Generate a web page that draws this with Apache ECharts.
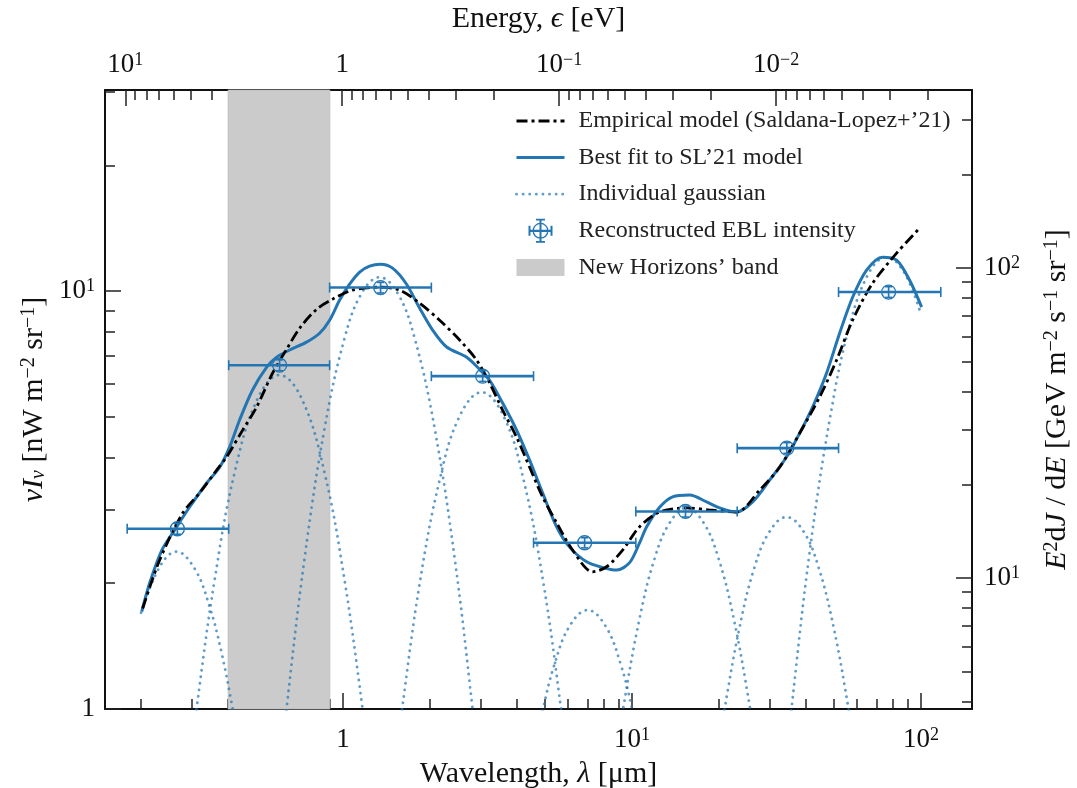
<!DOCTYPE html>
<html>
<head>
<meta charset="utf-8">
<script src="https://cdn.jsdelivr.net/npm/echarts@6.0.0/dist/echarts.min.js"></script>
<style>
html, body { margin: 0; padding: 0; background: #fff; }
#chart { width: 1077px; height: 788px; }
</style>
</head>
<body>
<div id="chart"></div>
<script>
// reconstructed EBL intensity: bin centre [um], nuI_nu [nW m^-2 sr^-1]
const pointLambda = [0.267, 0.603, 1.348, 3.04, 6.85, 15.3, 34.3, 77.2]
const pointValue = [2.70, 6.65, 10.2, 6.26, 2.50, 2.97, 4.21, 9.95]
const binLow = [0.179, 0.402, 0.898, 2.02, 4.56, 10.3, 23.1, 51.8]
const binHigh = [0.402, 0.898, 2.02, 4.56, 10.3, 23.1, 51.8, 117]
const valueLow = [2.62, 6.45, 9.9, 6.08, 2.43, 2.88, 4.09, 9.66]
const valueHigh = [2.78, 6.85, 10.5, 6.45, 2.57, 3.06, 4.34, 10.25]

// New Horizons band [um]
const newHorizons = [0.4, 0.9]

// empirical model (Saldana-Lopez+'21), [lambda, nuI_nu]
const empirical = [
  [0.2025, 1.74], [0.2317, 2.27], [0.2783, 2.94], [0.3189, 3.29], [0.365, 3.73],
  [0.3952, 4.01], [0.4491, 4.65], [0.502, 5.28], [0.5704, 6.37], [0.6374, 7.26],
  [0.707, 8.15], [0.8096, 9.05], [0.9198, 9.57], [1.079, 10.06], [1.338, 10.22],
  [1.569, 10.06], [1.839, 9.36], [2.158, 8.52], [2.53, 7.64], [2.897, 6.84],
  [3.213, 6.03], [3.564, 5.19], [3.985, 4.47], [4.419, 3.79], [4.9, 3.22],
  [5.48, 2.79], [6.225, 2.40], [7.298, 2.13], [8.164, 2.19], [9.272, 2.40],
  [10.62, 2.73], [12.45, 2.96], [15.44, 3.03], [18.99, 2.99], [22.99, 2.96],
  [27.62, 3.34], [32.39, 3.79], [37.98, 4.57], [44.54, 5.58], [51.0, 6.84],
  [57.94, 8.52], [67.97, 10.45], [82.27, 12.33], [98.8, 14.15]
]

// best fit to SL'21 model
const bestFit = [
  [0.201, 1.71], [0.214, 2.00], [0.236, 2.40], [0.261, 2.68], [0.294, 3.04],
  [0.337, 3.47], [0.374, 3.79], [0.405, 4.24], [0.438, 4.91], [0.486, 5.80],
  [0.544, 6.58], [0.589, 6.95], [0.653, 7.23], [0.747, 7.55], [0.829, 7.93],
  [0.898, 8.52], [0.973, 9.52], [1.053, 10.39], [1.141, 11.11], [1.235, 11.48],
  [1.348, 11.60], [1.483, 11.35], [1.658, 10.39], [1.839, 9.11], [2.040, 8.07],
  [2.281, 7.35], [2.676, 6.95], [2.967, 6.50], [3.213, 6.12], [3.564, 5.40],
  [3.985, 4.65], [4.419, 3.94], [4.900, 3.29], [5.480, 2.73], [6.077, 2.44],
  [6.960, 2.25], [7.905, 2.18], [8.840, 2.15], [9.803, 2.24], [10.62, 2.50],
  [11.23, 2.73], [12.45, 3.04], [13.81, 3.22], [15.81, 3.25], [18.11, 3.13],
  [20.08, 3.03], [22.99, 2.96], [26.12, 3.13], [29.91, 3.53], [34.23, 4.01],
  [37.98, 4.57], [42.13, 5.28], [47.10, 6.37], [52.24, 7.93], [57.94, 9.67],
  [64.77, 11.23], [73.57, 12.06], [82.27, 11.86], [91.26, 10.62], [100.4, 9.16]
]

// individual gaussians
const gauss1 = [[0.20, 1.70], [0.232, 2.19], [0.265, 2.38], [0.306, 2.17], [0.345, 1.76], [0.38, 1.36], [0.415, 1.0], [0.44, 0.80]]
const gauss2 = [[0.294, 0.72], [0.311, 1.0], [0.359, 2.03], [0.421, 3.67], [0.506, 5.53], [0.603, 6.30], [0.719, 5.53], [0.863, 3.67], [1.012, 2.03], [1.168, 1.0], [1.235, 0.72]]
const gauss3 = [[0.603, 0.69], [0.637, 1.0], [0.736, 2.30], [0.863, 4.70], [1.012, 7.72], [1.159, 9.89], [1.338, 10.8], [1.544, 9.89], [1.768, 7.72], [2.073, 4.70], [2.431, 2.30], [2.806, 1.0], [2.967, 0.69]]
const gauss4 = [[1.507, 0.72], [1.594, 0.98], [1.839, 1.99], [2.158, 3.53], [2.53, 5.02], [3.015, 5.73], [3.593, 5.02], [4.213, 3.53], [4.94, 1.99], [5.70, 0.98], [6.08, 0.68]]
const gauss5 = [[4.60, 0.80], [4.90, 0.99], [5.39, 1.28], [6.08, 1.58], [7.02, 1.725], [8.09, 1.58], [9.13, 1.28], [10.04, 0.99], [10.7, 0.80]]
const gauss6 = [[8.70, 0.73], [9.35, 1.02], [10.62, 1.65], [11.96, 2.29], [13.49, 2.79], [15.44, 3.03], [17.68, 2.79], [19.92, 2.29], [22.45, 1.65], [25.5, 1.02], [27.4, 0.73]]
const gauss7 = [[19.45, 0.72], [20.9, 1.0], [23.55, 1.57], [26.5, 2.18], [29.9, 2.66], [34.2, 2.88], [39.2, 2.66], [44.2, 2.18], [49.8, 1.57], [56.1, 1.0], [60.3, 0.72]]
const gauss8 = [[33.7, 0.69], [35.6, 1.0], [41.1, 2.36], [48.3, 4.94], [56.6, 8.29], [66.3, 11.13], [75.9, 12.06], [87.7, 11.04], [100, 8.76]]
const gaussians = [gauss1, gauss2, gauss3, gauss4, gauss5, gauss6, gauss7, gauss8]

// axis ranges and tick values
const lambdaRange = [0.15, 150]
const energyRange = [0.00125, 12.4]
const leftRange = [1, 30.3]
const rightRange = [3.78, 375]
const bottomMajor = [1, 10, 100]
const bottomMinor = [0.2, 0.3, 0.4, 0.5, 0.6, 0.7, 0.8, 0.9, 2, 3, 4, 5, 6, 7, 8, 9, 20, 30, 40, 50, 60, 70, 80, 90]
const topMajor = [10, 1, 0.1, 0.01]
const topMinor = [0.002, 0.003, 0.004, 0.005, 0.006, 0.007, 0.008, 0.009, 0.02, 0.03, 0.04, 0.05, 0.06, 0.07, 0.08, 0.09,
  0.2, 0.3, 0.4, 0.5, 0.6, 0.7, 0.8, 0.9, 2, 3, 4, 5, 6, 7, 8, 9]
const leftMajor = [1, 10]
const leftMinor = [2, 3, 4, 5, 6, 7, 8, 9, 20, 30]
const rightMajor = [10, 100]
const rightMinor = [4, 5, 6, 7, 8, 9, 20, 30, 40, 50, 60, 70, 80, 90, 200, 300]

const FONT = '"Liberation Serif", "DejaVu Serif", serif'
const BLUE = '#2476b2'
const GAUSS = 'rgba(36,118,178,0.72)'
const INK = '#111'

function rich (size) {
  const small = Math.round(size * 0.68)
  return {
    n: { fontFamily: FONT, fontSize: size, color: INK },
    i: { fontFamily: FONT, fontSize: size, fontStyle: 'italic', color: INK },
    sup: { fontFamily: FONT, fontSize: small, verticalAlign: 'top', color: INK },
    sub: { fontFamily: FONT, fontSize: small, fontStyle: 'italic', verticalAlign: 'bottom', color: INK }
  }
}

// 10^n tick labels
function powLabel (v) {
  const e = Math.round(Math.log10(v))
  if (e === 0) return '{n|1}'
  return '{n|10}{sup|' + (e < 0 ? '−' + (-e) : e) + '}'
}

const axisLine = { show: true, onZero: false, lineStyle: { color: INK, width: 2 } }
const tickLine = { color: '#222', width: 1.5 }

function majorAxis (pos, range, ticks, extra) {
  return Object.assign({
    type: 'log',
    position: pos,
    min: range[0],
    max: range[1],
    axisLine: axisLine,
    axisTick: { inside: true, length: 16, customValues: ticks, lineStyle: tickLine },
    axisLabel: { customValues: ticks, formatter: powLabel, rich: rich(27), margin: 12 },
    splitLine: { show: false },
    nameLocation: 'middle',
    nameMoveOverlap: false,
    nameTextStyle: { rich: rich(30) }
  }, extra)
}

function minorAxis (pos, range, ticks, extra) {
  return Object.assign({
    type: 'log',
    position: pos,
    min: range[0],
    max: range[1],
    axisLine: { show: false, onZero: false },
    axisTick: { inside: true, length: 10, customValues: ticks, lineStyle: tickLine },
    axisLabel: { show: false },
    splitLine: { show: false }
  }, extra)
}

// error bar marker
function pointItem (params, api) {
  const y = api.value(1)
  const c = api.coord([api.value(0), y])
  const lo = api.coord([api.value(2), y])
  const hi = api.coord([api.value(3), y])
  const yl = api.coord([api.value(0), api.value(4)])
  const yh = api.coord([api.value(0), api.value(5)])
  const thick = { stroke: BLUE, lineWidth: 2.6 }
  const thin = { stroke: BLUE, lineWidth: 1.6 }
  return {
    type: 'group',
    children: [
      { type: 'line', shape: { x1: lo[0], y1: c[1], x2: hi[0], y2: c[1] }, style: thick },
      { type: 'line', shape: { x1: lo[0], y1: c[1] - 5, x2: lo[0], y2: c[1] + 5 }, style: thin },
      { type: 'line', shape: { x1: hi[0], y1: c[1] - 5, x2: hi[0], y2: c[1] + 5 }, style: thin },
      { type: 'line', shape: { x1: c[0], y1: yl[1], x2: c[0], y2: yh[1] }, style: thin },
      { type: 'line', shape: { x1: c[0] - 3.5, y1: yl[1], x2: c[0] + 3.5, y2: yl[1] }, style: thin },
      { type: 'line', shape: { x1: c[0] - 3.5, y1: yh[1], x2: c[0] + 3.5, y2: yh[1] }, style: thin },
      { type: 'circle', shape: { cx: c[0], cy: c[1], r: 7 }, style: { stroke: BLUE, lineWidth: 1.3, fill: 'rgba(36,118,178,0.08)' } }
    ]
  }
}

// grey band over the whole height
function bandItem (params, api) {
  const a = api.coord([api.value(0), 1])
  const b = api.coord([api.value(1), 1])
  return {
    type: 'rect',
    shape: { x: a[0], y: params.coordSys.y, width: b[0] - a[0], height: params.coordSys.height },
    style: { fill: '#cbcbcb', stroke: '#bbbbbb', lineWidth: 0.8 }
  }
}

const points = pointLambda.map(function (l, i) {
  return [l, pointValue[i], binLow[i], binHigh[i], valueLow[i], valueHigh[i]]
})

const MARKER_ICON = 'path://M12,10.9H36V13.1H12Z M12,7H14V17H12Z M34,7H36V17H34Z M23,0H25V24H23Z M19.5,0H28.5V1.8H19.5Z M19.5,22.2H28.5V24H19.5Z ' +
  'M32,12A8,8 0 1,1 16,12A8,8 0 1,1 32,12Z M30.7,12A6.7,6.7 0 1,0 17.3,12A6.7,6.7 0 1,0 30.7,12Z'
const BAND_ICON = 'path://M0,0H48V17H0Z'

const NAME_EMP = 'Empirical model (Saldana-Lopez+’21)'
const NAME_FIT = 'Best fit to SL’21 model'
const NAME_GAUSS = 'Individual gaussian'
const NAME_PTS = 'Reconstructed EBL intensity'
const NAME_BAND = 'New Horizons’ band'

const EMP_DASH = [11, 4, 3, 4]
const GAUSS_DOT = [0.1, 6.5]

const chart = echarts.init(document.getElementById('chart'))

const option = {
  animation: false,
  backgroundColor: '#fff',
  textStyle: { fontFamily: FONT },
  grid: { left: 105, right: 105, top: 90, bottom: 79, containLabel: false, outerBoundsMode: 'none' },
  legend: {
    orient: 'vertical',
    left: 515,
    top: 109,
    padding: 0,
    itemWidth: 48,
    itemHeight: 24,
    itemGap: 12.6,
    selectedMode: false,
    formatter: function (name) { return '{t|' + name + '}' },
    textStyle: {
      rich: { t: { fontFamily: FONT, fontSize: 24, color: '#222', padding: [0, 0, 0, 9] } }
    },
    data: [
      { name: NAME_EMP, itemStyle: { opacity: 0 }, lineStyle: { color: '#000', width: 2.8, type: EMP_DASH } },
      { name: NAME_FIT, itemStyle: { opacity: 0 }, lineStyle: { color: BLUE, width: 3 } },
      { name: NAME_GAUSS, itemStyle: { opacity: 0 }, lineStyle: { color: GAUSS, width: 2.8, type: GAUSS_DOT, cap: 'round' } },
      { name: NAME_PTS, icon: MARKER_ICON },
      { name: NAME_BAND, icon: BAND_ICON }
    ]
  },
  xAxis: [
    majorAxis('bottom', lambdaRange, bottomMajor, {
      name: '{n|Wavelength, }{i|λ}{n| [μm]}',
      nameGap: 50,
      axisLabel: { customValues: bottomMajor, formatter: powLabel, rich: rich(27), margin: 17 }
    }),
    minorAxis('bottom', lambdaRange, bottomMinor),
    majorAxis('top', energyRange, topMajor, {
      inverse: true,
      name: '{n|Energy, }{i|ϵ}{n| [eV]}',
      nameGap: 56
    }),
    minorAxis('top', energyRange, topMinor, { inverse: true })
  ],
  yAxis: [
    majorAxis('left', leftRange, leftMajor, {
      name: '{i|ν}{i|I}{sub|ν}{n| [nW m}{sup|−2}{n| sr}{sup|−1}{n|]}',
      nameRotate: 90,
      nameGap: 56,
      axisLabel: { customValues: leftMajor, formatter: powLabel, rich: rich(27), margin: 10 }
    }),
    minorAxis('left', leftRange, leftMinor),
    majorAxis('right', rightRange, rightMajor, {
      name: '{i|E}{sup|2}{n|d}{i|J}{n| / d}{i|E}{n| [GeV m}{sup|−2}{n| s}{sup|−1}{n| sr}{sup|−1}{n|]}',
      nameRotate: 90,
      nameGap: 70,
      axisLabel: { customValues: rightMajor, formatter: powLabel, rich: rich(27), margin: 12 }
    }),
    minorAxis('right', rightRange, rightMinor)
  ],
  series: [
    {
      name: NAME_BAND,
      type: 'custom',
      data: [newHorizons],
      renderItem: bandItem,
      itemStyle: { color: '#cbcbcb' },
      silent: true,
      z: 1
    }
  ].concat(gaussians.map(function (g) {
    return {
      name: NAME_GAUSS,
      type: 'line',
      data: g,
      smooth: 0.4,
      symbol: 'none',
      lineStyle: { color: GAUSS, width: 2.8, type: GAUSS_DOT, cap: 'round' },
      itemStyle: { color: GAUSS },
      silent: true,
      z: 2
    }
  })).concat([
    {
      name: NAME_FIT,
      type: 'line',
      data: bestFit,
      smooth: 0.3,
      symbol: 'none',
      lineStyle: { color: BLUE, width: 3 },
      itemStyle: { color: BLUE },
      silent: true,
      z: 3
    },
    {
      name: NAME_EMP,
      type: 'line',
      data: empirical,
      smooth: 0.3,
      symbol: 'none',
      lineStyle: { color: '#000', width: 2.8, type: EMP_DASH },
      itemStyle: { color: '#000' },
      silent: true,
      z: 4
    },
    {
      name: NAME_PTS,
      type: 'custom',
      data: points,
      encode: { x: 0, y: 1 },
      renderItem: pointItem,
      itemStyle: { color: BLUE },
      silent: true,
      z: 5
    }
  ])
}

chart.setOption(option)
</script>
</body>
</html>
